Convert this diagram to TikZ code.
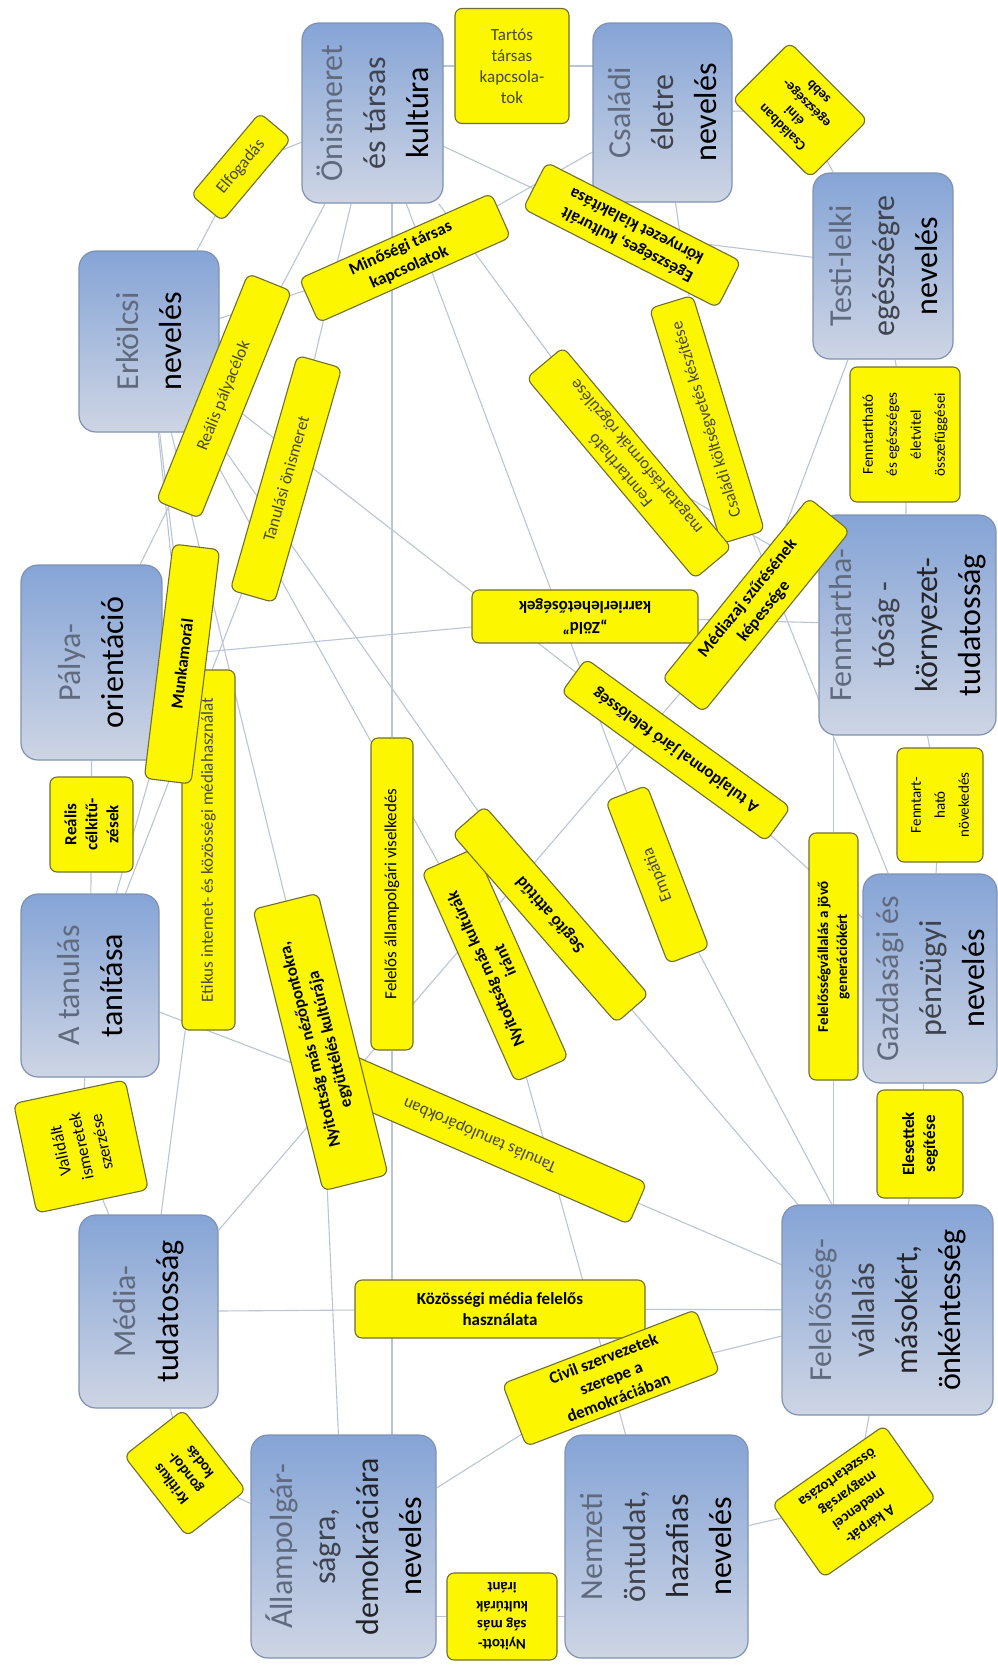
\documentclass[tikz,border=0pt]{standalone}
\usepackage{fontspec}
\setmainfont{Carlito}
\usepackage{tikz}
\usetikzlibrary{backgrounds}
\definecolor{topicleft}{RGB}{133,164,214}
\definecolor{topicright}{RGB}{206,213,228}
\definecolor{topicline}{RGB}{128,146,178}
\definecolor{tagfill}{RGB}{252,246,0}
\definecolor{tagline}{RGB}{112,110,48}
\definecolor{taggray}{RGB}{72,72,60}
\definecolor{linkgray}{RGB}{186,198,214}
\definecolor{fadeA}{RGB}{96,106,126}
\definecolor{fadeB}{RGB}{62,67,78}
\definecolor{fadeC}{RGB}{35,37,42}
\tikzstyle{topic}  =[rectangle, rounded corners=17pt, draw=topicline,
                     line width=1.2pt, rotate=90, top color=topicleft,
                     bottom color=topicright, align=center, inner sep=2pt,
                     font=\fontsize{32}{43}\selectfont]
\tikzstyle{tag}    =[rectangle, rounded corners=7pt, draw=tagline,
                     line width=1.1pt, fill=tagfill, align=center,
                     inner sep=2pt, text=taggray,
                     font=\fontsize{17}{21}\selectfont]
\tikzstyle{tagbold}=[tag, text=black, font=\fontsize{17}{21}\selectfont\bfseries]
\tikzstyle{link}   =[draw=linkgray, line width=1.1pt]

\begin{document}
\begin{tikzpicture}[x=1pt, y=-1pt]
  \useasboundingbox (0,0) rectangle (997,1665);
  % topics
  \node[topic, minimum width=180, minimum height=141] (onism) at (372.5,113)
    {{\color{fadeA}Önismeret}\\{\color{fadeB}és társas}\\kultúra};
  \node[topic, minimum width=179, minimum height=139] (csalad) at (662.5,112.5)
    {{\color{fadeA}Családi}\\{\color{fadeB}életre}\\nevelés};
  \node[topic, minimum width=186, minimum height=140] (testi) at (883,266)
    {{\color{fadeA}Testi-lelki}\\{\color{fadeB}egészségre}\\nevelés};
  \node[topic, minimum width=181, minimum height=140] (erkolcs) at (149,341.5)
    {{\color{fadeA}Erkölcsi}\\nevelés};
  \node[topic, minimum width=195, minimum height=141] (palya) at (91.5,662.5)
    {{\color{fadeA}Pálya-}\\orientáció};
  \node[topic, minimum width=220, minimum height=177] (fennt) at (907.5,625)
    {{\color{fadeA}Fenntartha-}\\{\color{fadeB}tóság -}\\{\color{fadeC}környezet-}\\tudatosság};
  \node[topic, minimum width=183, minimum height=138] (tanul) at (90,985.5)
    {{\color{fadeA}A tanulás}\\tanítása};
  \node[topic, minimum width=209, minimum height=134] (gazd) at (930,978.5)
    {{\color{fadeA}Gazdasági és}\\{\color{fadeB}pénzügyi}\\nevelés};
  \node[topic, minimum width=193, minimum height=139] (media) at (148.5,1311.5)
    {{\color{fadeA}Média-}\\tudatosság};
  \node[topic, minimum width=223, minimum height=185] (allam) at (343.5,1546.5)
    {{\color{fadeA}Állampolgár-}\\{\color{fadeB}ságra,}\\{\color{fadeC}demokráciára}\\nevelés};
  \node[topic, minimum width=210, minimum height=211] (felel) at (887.5,1310)
    {{\color{fadeA}Felelősség-}\\{\color{fadeB}vállalás}\\{\color{fadeC}másokért,}\\önkéntesség};
  \node[topic, minimum width=223, minimum height=183] (nemz) at (656.5,1546.5)
    {{\color{fadeA}Nemzeti}\\{\color{fadeB}öntudat,}\\{\color{fadeC}hazafias}\\nevelés};

  % yellow labels
  \node[tag, rotate=50, minimum width=107, minimum height=41] (elfog) at (241,167) {Elfogadás};
  \node[tag, minimum width=114, minimum height=115] (tartos) at (512,66) {Tartós\\társas\\kapcsola-\\tok};
  \node[tagbold, rotate=135, minimum width=110, minimum height=81,
        font=\fontsize{14}{17}\selectfont\bfseries] (csaladban) at (800,110) {Családban\\élni\\egészsége-\\sebb};
  \node[tag, rotate=68, minimum width=245, minimum height=47] (realpalya) at (224,396) {Reális pályacélok};
  \node[tagbold, rotate=24, minimum width=210, minimum height=48] (minoseg) at (405,258) {Minőségi társas\\kapcsolatok};
  \node[tagbold, rotate=153, minimum width=218, minimum height=52] (egeszseg) at (632,235) {Egészséges, kulturált\\környezet kialakítása};
  \node[tag, rotate=74, minimum width=244, minimum height=46] (tanon) at (286,479) {Tanulási önismeret};
  \node[tag, rotate=90, minimum width=360, minimum height=53] (etikus) at (208.5,850) {Etikus internet- és közösségi médiahasználat};
  \node[tagbold, rotate=83, minimum width=236, minimum height=47] (munka) at (182,664) {Munkamorál};
  \node[tag, rotate=107, minimum width=246, minimum height=45] (koltseg) at (707,419.5) {Családi költségvetés készítése};
  \node[tag, rotate=130, minimum width=262, minimum height=48] (fennmag) at (629,463) {Fenntartható\\magatartásformák rögzülése};
  \node[tag, text=black, rotate=90, minimum width=135, minimum height=110,
        font=\fontsize{15}{24}\selectfont] (fennegesz) at (905,434.5) {Fenntartható\\és egészséges\\életvitel\\összefüggései};
  \node[tagbold, rotate=180, minimum width=226, minimum height=53] (zold) at (585,616.5) {„Zöld”\\karrierlehetőségek};
  \node[tagbold, rotate=144, minimum width=253, minimum height=42] (tulaj) at (676,750) {A tulajdonnal járó felelősség};
  \node[tagbold, rotate=51, minimum width=233, minimum height=53] (mediazaj) at (756,605) {Médiazaj szűrésének\\képessége};
  \node[tag, rotate=111, minimum width=174, minimum height=44] (empatia) at (657.5,874.5) {Empátia};
  \node[tag, text=black, rotate=90, minimum width=114, minimum height=86,
        font=\fontsize{15}{24}\selectfont] (fennnov) at (940,805) {Fenntart-\\ható\\növekedés};
  \node[tagbold, rotate=90, minimum width=247, minimum height=49,
        font=\fontsize{15}{19}\selectfont\bfseries] (jovo) at (833.5,956.5) {Felelősségvállalás a jövő\\generációkért};
  \node[tagbold, rotate=90, minimum width=108, minimum height=86] (elesett) at (920,1144) {Elesettek\\segítése};
  \node[tagbold, rotate=90, minimum width=95, minimum height=83] (realcel) at (91.5,824.5) {Reális\\célkitű-\\zések};
  \node[tag, text=black, rotate=102, minimum width=112, minimum height=114] (valid) at (81,1146.5) {Validált\\ismeretek\\szerzése};
  \node[tag, text=black, rotate=90, minimum width=312, minimum height=42] (felall) at (392,894) {Felelős állampolgári viselkedés};
  \node[tag, rotate=156.5, minimum width=344, minimum height=45] (tanpar) at (480,1135) {Tanulás tanulópárokban};
  \node[tagbold, rotate=104, minimum width=290, minimum height=67] (nyitnez) at (320.5,1042) {Nyitottság más nézőpontokra,\\együttélés kultúrája};
  \node[tagbold, rotate=114, minimum width=230, minimum height=58] (nyitkult) at (495,965) {Nyitottság más kultúrák\\iránt};
  \node[tagbold, rotate=131, minimum width=250, minimum height=43] (segito) at (550.5,914.5) {Segítő attitűd};
  \node[tagbold, minimum width=290, minimum height=58] (kozmed) at (500,1309) {Közösségi média felelős\\használata};
  \node[tagbold, rotate=21, minimum width=207, minimum height=67] (civil) at (611,1378) {Civil szervezetek\\szerepe a\\demokráciában};
  \node[tagbold, rotate=128, minimum width=102, minimum height=75,
        font=\fontsize{15}{18}\selectfont\bfseries] (kritikus) at (185,1473) {Kritikus\\gondol-\\kodás};
  \node[tagbold, rotate=180, minimum width=110, minimum height=87,
        font=\fontsize{15}{19}\selectfont\bfseries] (nyitkult2) at (502,1616.5) {Nyitott-\\ság más\\kultúrák\\iránt};
  \node[tagbold, rotate=215, minimum width=137, minimum height=90,
        font=\fontsize{15}{19}\selectfont\bfseries] (karpat) at (854,1501.5) {A kárpát-\\medencei\\magyarság\\összetartozása};

  % connectors
  \begin{pgfonlayer}{background}
    \fill[white] (0,0) rectangle (997,1665);
    \draw[link] (onism) -- (elfog) -- (erkolcs);
    \draw[link] (onism |- tartos) -- (tartos) -- (csalad |- tartos);
    \draw[link] (csalad) -- (csaladban) -- (testi);
    \draw[link] (erkolcs) -- (minoseg) -- (csalad);
    \draw[link] (onism) -- (egeszseg) -- (testi);
    \draw[link] (onism) -- (realpalya) -- (palya);
    \draw[link] (onism) -- (tanon) -- (tanul);
    \draw[link] (erkolcs) -- (munka) -- (tanul);
    \draw[link] (erkolcs) -- (etikus) -- (media);
    \draw[link] (felall |- onism) -- (felall) -- (felall |- allam);
    \draw[link] (erkolcs) -- (nyitnez) -- (allam);
    \draw[link] (tanul) -- (tanpar) -- (felel);
    \draw[link] (erkolcs) -- (nyitkult) -- (nemz);
    \draw[link] (erkolcs) -- (segito) -- (felel);
    \draw[link] (onism) -- (empatia) -- (felel);
    \draw[link] (erkolcs) -- (tulaj) -- (gazd);
    \draw[link] (media) -- (mediazaj) -- (testi);
    \draw[link] (palya) -- (zold) -- (fennt);
    \draw[link] (onism) -- (fennmag) -- (fennt);
    \draw[link] (csalad) -- (koltseg) -- (gazd);
    \draw[link] (testi) -- (fennegesz) -- (fennt);
    \draw[link] (fennt) -- (fennnov) -- (gazd);
    \draw[link] (jovo |- fennt) -- (jovo) -- (jovo |- felel);
    \draw[link] (gazd) -- (elesett) -- (felel);
    \draw[link] (palya) -- (realcel) -- (tanul);
    \draw[link] (tanul) -- (valid) -- (media);
    \draw[link] (media) -- (kritikus) -- (allam);
    \draw[link] (allam |- nyitkult2) -- (nyitkult2) -- (nemz |- nyitkult2);
    \draw[link] (allam) -- (civil) -- (felel);
    \draw[link] (media) -- (kozmed) -- (felel);
    \draw[link] (nemz) -- (karpat) -- (felel);
  \end{pgfonlayer}
\end{tikzpicture}
\end{document}
